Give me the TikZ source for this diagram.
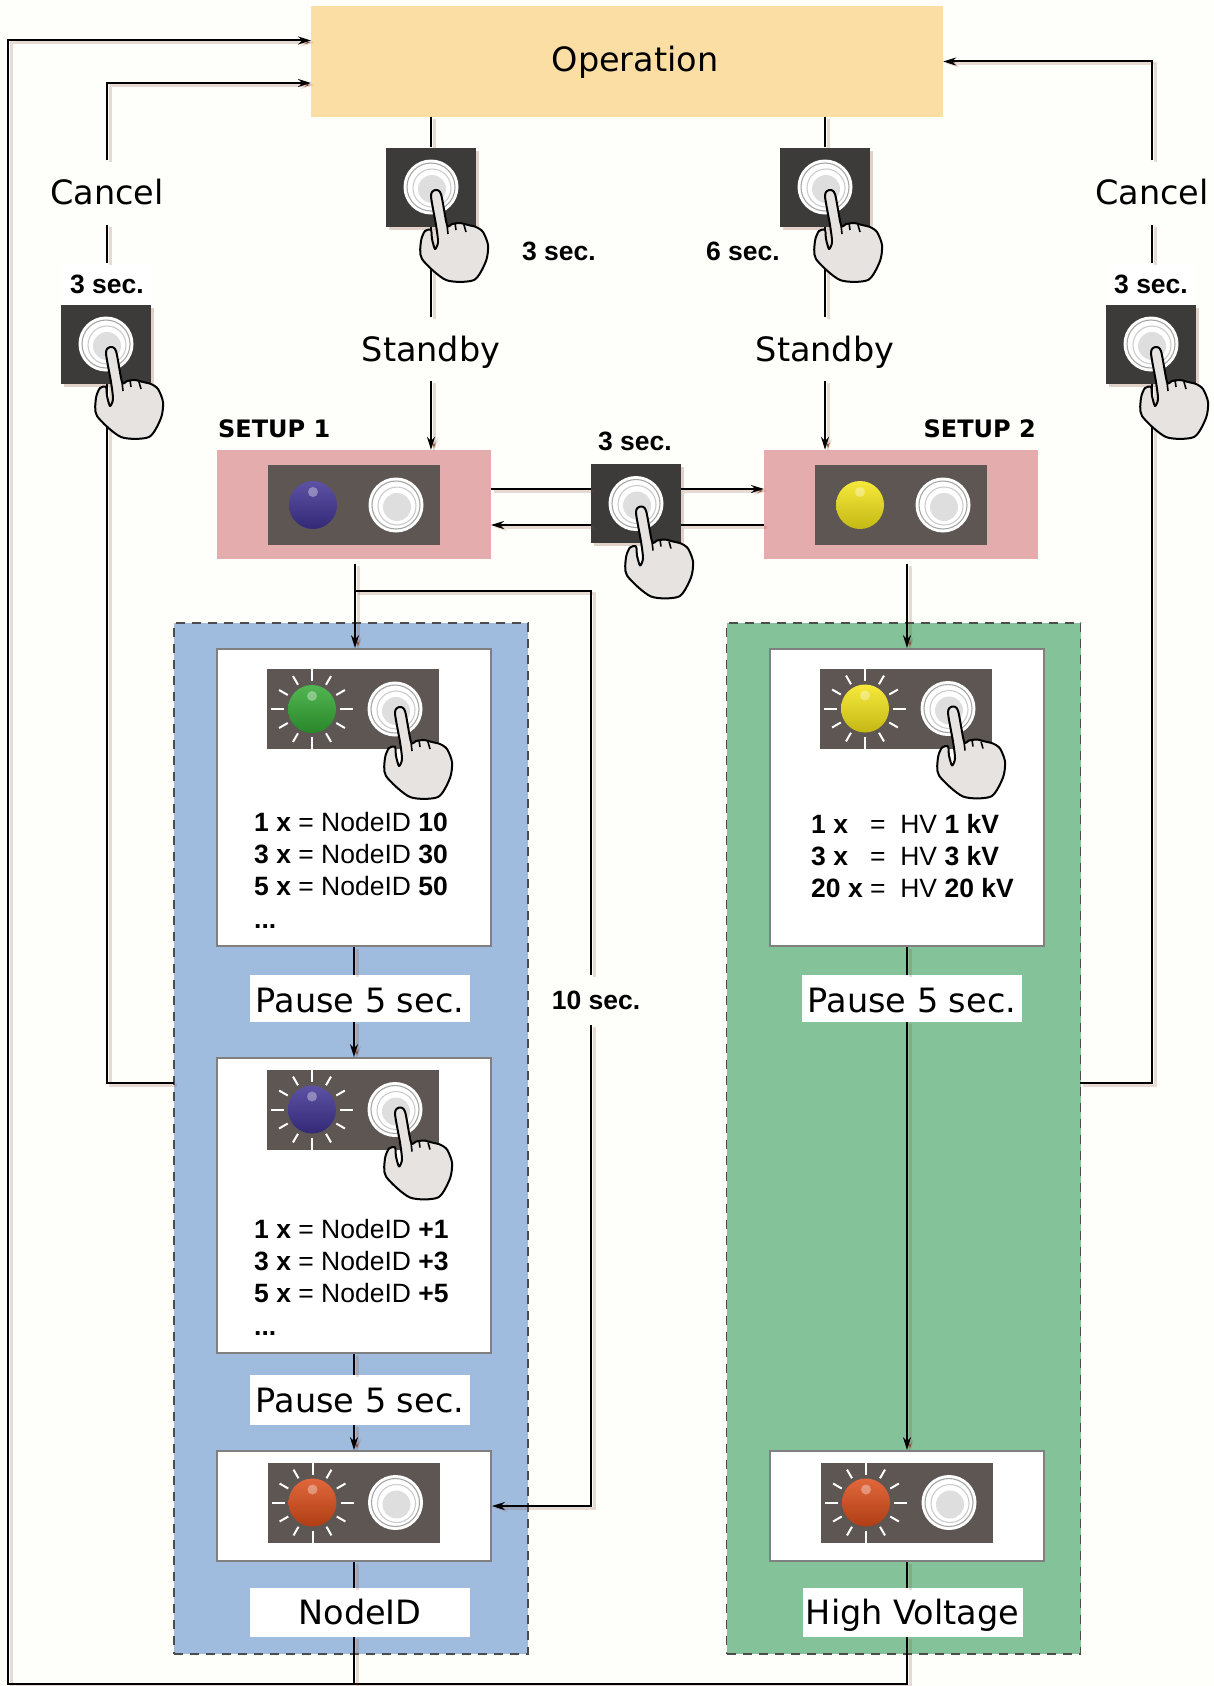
\documentclass[tikz,border=0pt]{standalone}
\usepackage{fontspec}
\setmainfont{DejaVu Sans}
\newfontfamily\notefont{Liberation Sans}
\usetikzlibrary{arrows.meta}
\definecolor{cpaper}{rgb}{0.996, 0.996, 0.984}
\definecolor{coper}{rgb}{0.984, 0.871, 0.639}
\definecolor{csetup}{rgb}{0.894, 0.675, 0.675}
\definecolor{cblue}{rgb}{0.624, 0.733, 0.867}
\definecolor{cgreen}{rgb}{0.518, 0.765, 0.604}
\definecolor{cctrl}{rgb}{0.365, 0.337, 0.325}
\definecolor{cbtn}{rgb}{0.239, 0.231, 0.224}
\definecolor{cshade}{rgb}{0.55, 0.3, 0.2}
\definecolor{chand}{rgb}{0.902, 0.89, 0.882}
\definecolor{cledblue}{rgb}{0.25, 0.2, 0.58}
\definecolor{cledgreen}{rgb}{0.2, 0.66, 0.2}
\definecolor{cledyellow}{rgb}{0.96, 0.9, 0.1}
\definecolor{cledred}{rgb}{0.86, 0.3, 0.1}
\tikzset{
  bigtext/.style={font=\fontsize{33.5}{38}\selectfont, text height=24pt, text depth=0pt},
  note/.style={font=\notefont\bfseries\fontsize{26.5}{32}\selectfont},
  listtext/.style={font=\notefont\fontsize{26.5}{32}\selectfont, align=left, inner sep=0},
  setuptext/.style={font=\bfseries\fontsize{24}{28}\selectfont, inner sep=0},
  conn/.style={draw=black, line width=2pt,
    preaction={draw=cshade, draw opacity=0.2, line width=3pt, transform canvas={shift={(3pt,-2pt)}}}},
  tip/.style={-{Stealth[length=13pt, width=8pt]}},
  area/.style={draw=black!70, line width=1.4pt, dash pattern=on 9pt off 7pt, minimum width=354pt, minimum height=1031pt, inner sep=0},
  wbox/.style={draw=black!50, line width=1.8pt, fill=white, minimum width=274pt, inner sep=0},
  setupbox/.style={fill=csetup, minimum width=274pt, minimum height=109pt, inner sep=0},
  ctrl/.style={fill=cctrl, minimum width=172pt, minimum height=80pt, inner sep=0},
  btn/.style={fill=cbtn, minimum width=90pt, minimum height=79pt, inner sep=0,
    preaction={fill=cshade, fill opacity=0.25, transform canvas={shift={(3pt,-3pt)}}}},
  knob/.style={circle, fill=white, minimum size=55pt, inner sep=0},
  led/.style={circle, minimum size=48pt, inner sep=0},
  lbl/.style={bigtext, fill=white, inner sep=0, minimum width=220pt},
  gap/.style={bigtext, inner sep=0, minimum height=64pt},
}
\newcommand{\knobrings}[1]{
  \begin{scope}[shift={(#1)}]
    \draw [black!35, line width=1.1pt] (0, 0) circle (24);
    \draw [black!20, line width=1.1pt] (1, 1) circle (19);
    \fill [black!13] (1, 2) circle (14);
  \end{scope}
}
\newcommand{\ledbox}[4]{
  \node [ctrl] (#1) at (#2) {};
  \node [led, top color=#3!85!white, bottom color=#3!80!black] (#1led) at ([xshift=-41pt]#1.center) {};
  \fill [white, opacity=0.35] ([yshift=13pt]#1led.center) circle (5);
  \node [knob] (#1knob) at ([xshift=42pt]#1.center) {};
  \knobrings{#1knob.center}
  \ifnum#4=1
    \begin{scope}[shift={(#1led.center)}]
      \foreach \a in {0, 90, 180, 270} \draw [white, line width=2pt] (\a:28) -- (\a:41);
      \foreach \a in {30, 60, 120, 150, 210, 240, 300, 330} \draw [white, line width=2pt] (\a:28) -- (\a:38);
    \end{scope}
  \fi
}
\newcommand{\presshand}[2][0pt]{
  \begin{scope}[shift={(#2)}, xshift=-1pt, yshift=#1]
    \draw [fill=chand, line width=2pt, line join=round]
      plot [smooth cycle, tension=0.45] coordinates {(5, 3) (1, 9) (6, 38) (8, 55) (5, 62) (2, 52) (1, 43) (-5, 44) (-9, 54) (-8, 72) (16, 93) (44, 93) (56, 74) (58, 58) (53, 45) (46, 40) (38, 38) (30, 36) (22, 37) (17, 38) (11, 7)};
    \draw [line width=1.6pt] (17, 38) -- (18, 47) (25, 36) -- (26, 43) (34, 38) -- (36, 45);
  \end{scope}
}

\begin{document}
\begin{tikzpicture}[x=1pt, y=-1pt]
  \useasboundingbox (0, 0) rectangle (1214, 1686);
  \fill [cpaper] (0, 0) rectangle (1214, 1686);

  \node [area, fill=cblue] (areaA) at (351, 1138.5) {};
  \node [area, fill=cgreen] (areaB) at (903.5, 1138.5) {};

  \node [fill=coper, minimum width=632pt, minimum height=110pt, inner sep=0, bigtext, text height=20pt] (opn) at (627, 61.5) {\hspace*{16pt}Operation};

  \node [gap] (cancelL) at (107, 192.5) {Cancel};
  \node [gap] (cancelR) at (1152, 192.5) {Cancel};
  \node [note, fill=white, minimum width=90pt, minimum height=41pt, inner sep=0] (secL) at (107, 284) {3 sec.};
  \node [note, fill=white, minimum width=90pt, minimum height=41pt, inner sep=0] (secR) at (1151, 284) {3 sec.};
  \node [btn] (btnL) at (106, 344) {};
  \node [btn] (btnR) at (1151, 344) {};

  \node [btn] (btnA) at (431, 187) {};
  \node [btn] (btnB) at (825, 187) {};
  \node [note] (secA) at (559, 251) {3 sec.};
  \node [note] (secB) at (743, 251) {6 sec.};
  \node [gap] (standbyA) at (431, 349) {Standby};
  \node [gap] (standbyB) at (825, 349) {Standby};

  \node [setuptext, anchor=west] (titleA) at (218, 429) {SETUP 1};
  \node [setuptext, anchor=east] (titleB) at (1036, 429) {SETUP 2};
  \node [setupbox] (setupA) at (354, 504.5) {};
  \node [setupbox] (setupB) at (901, 504.5) {};
  \ledbox{ctrlS1}{354, 505}{cledblue}{0}
  \ledbox{ctrlS2}{901, 505}{cledyellow}{0}

  \node [note] (secM) at (635, 441) {3 sec.};
  \node [btn] (btnM) at (636, 503.5) {};

  \node [wbox, minimum height=297pt] (boxA1) at (354, 797.5) {};
  \node [wbox, minimum height=295pt] (boxA2) at (354, 1205.5) {};
  \node [wbox, minimum height=110pt] (boxA3) at (354, 1506) {};
  \node [wbox, minimum height=297pt] (boxB1) at (907, 797.5) {};
  \node [wbox, minimum height=110pt] (boxB3) at (907, 1506) {};

  \ledbox{ctrlA1}{353, 709}{cledgreen}{1}
  \ledbox{ctrlA2}{353, 1109.5}{cledblue}{1}
  \ledbox{ctrlA3}{353.5, 1502.5}{cledred}{1}
  \ledbox{ctrlB1}{906, 708.5}{cledyellow}{1}
  \ledbox{ctrlB3}{907, 1502.5}{cledred}{1}

  \node [listtext, anchor=north west] (listA1) at (254, 812.5) {\textbf{1 x} = NodeID \textbf{10}\\\textbf{3 x} = NodeID \textbf{30}\\\textbf{5 x} = NodeID \textbf{50}\\[1pt]\textbf{...}};
  \node [listtext, anchor=north west] (listA2) at (254, 1219.5) {\textbf{1 x} = NodeID \textbf{+1}\\\textbf{3 x} = NodeID \textbf{+3}\\\textbf{5 x} = NodeID \textbf{+5}\\[1pt]\textbf{...}};
  \node [listtext, anchor=north west] (listB1) at (811, 810.5) {\begin{tabular}{@{}l@{ }l}\textbf{1 x} & = \ HV \textbf{1 kV}\\\textbf{3 x} & = \ HV \textbf{3 kV}\\\textbf{20 x} & = \ HV \textbf{20 kV}\end{tabular}};

  \node [lbl, minimum height=47pt, text height=28pt] (lblA1) at (360, 998.5) {Pause 5 sec.};
  \node [lbl, minimum height=50pt] (lblA2) at (360, 1400) {Pause 5 sec.};
  \node [lbl, minimum height=49pt] (lblA3) at (360, 1612.5) {NodeID};
  \node [lbl, minimum height=47pt, text height=28pt] (lblB1) at (912, 998.5) {Pause 5 sec.};
  \node [lbl, minimum height=49pt] (lblB3) at (912.5, 1612.5) {High Voltage};

  \node [note, minimum height=50pt, inner sep=0] (secLoop) at (596, 1000) {10 sec.};

  \coordinate (opnL1) at (311, 40.5);
  \coordinate (opnL2) at (311, 83);
  \coordinate (botL) at (8, 1684);
  \coordinate (cancelA) at (174, 1083);
  \coordinate (cancelB) at (1080, 1083);
  \coordinate (outA) at (355, 564);
  \coordinate (loopT) at (355, 591);
  \coordinate (loopX) at (591, 1000);
  \coordinate (outB) at (907, 564);
  \coordinate (setA1) at (491, 489);
  \coordinate (setA2) at (491, 525);
  \coordinate (setB1) at (764, 489);
  \coordinate (setB2) at (764, 525);

  \draw [conn, tip] (boxB3.south |- lblB3.south) |- (botL) |- (opnL1);
  \draw [conn] (boxA3.south |- lblA3.south) -- (boxA3.south |- botL);
  \draw [conn, tip] (cancelL.north) |- (opnL2);
  \draw [conn] (cancelL.south) -- (secL.north);
  \draw [conn] (btnL.south -| cancelL) |- (cancelA);
  \draw [conn, tip] (cancelR.north) |- (opn.east);
  \draw [conn] (cancelR.south) -- (cancelR.south |- secR.north);
  \draw [conn] (btnR.south -| cancelR) |- (cancelB);

  \draw [conn] (opn.south -| btnA) -- (btnA.north);
  \draw [conn] (btnA.south) -- (standbyA.north);
  \draw [conn, tip] (standbyA.south) -- (standbyA.south |- setupA.north);
  \draw [conn] (opn.south -| btnB) -- (btnB.north);
  \draw [conn] (btnB.south) -- (standbyB.north);
  \draw [conn, tip] (standbyB.south) -- (standbyB.south |- setupB.north);

  \draw [conn] (setA1) -- (setA1 -| btnM.west);
  \draw [conn, tip] (setA2 -| btnM.west) -- (setA2);
  \draw [conn, tip] (setB1 -| btnM.east) -- (setB1);
  \draw [conn] (setB2) -- (setB2 -| btnM.east);

  \draw [conn, tip] (outA) -- (outA |- boxA1.north);
  \draw [conn] (loopT) -| (loopX |- secLoop.north);
  \draw [conn, tip] (loopX |- secLoop.south) |- (boxA3.east);
  \draw [conn, tip] (outB) -- (boxB1.north);

  \draw [conn] (boxA1.south) -- (boxA1.south |- lblA1.north);
  \draw [conn, tip] (boxA1.south |- lblA1.south) -- (boxA2.north);
  \draw [conn] (boxA2.south) -- (boxA2.south |- lblA2.north);
  \draw [conn, tip] (boxA2.south |- lblA2.south) -- (boxA3.north);
  \draw [conn] (boxA3.south) -- (boxA3.south |- lblA3.north);
  \draw [conn] (boxB1.south) -- (boxB1.south |- lblB1.north);
  \draw [conn, tip] (boxB1.south |- lblB1.south) -- (boxB3.north);
  \draw [conn] (boxB3.south) -- (boxB3.south |- lblB3.north);

  \foreach \b in {btnL, btnR, btnA, btnB, btnM} {
    \node [knob] (\b knob) at (\b.center) {};
    \knobrings{\b knob.center}
    \presshand{\b.center}
  }
  \presshand[5pt]{ctrlA1knob.center}
  \presshand[5pt]{ctrlA2knob.center}
  \presshand[5pt]{ctrlB1knob.center}
\end{tikzpicture}
\end{document}
